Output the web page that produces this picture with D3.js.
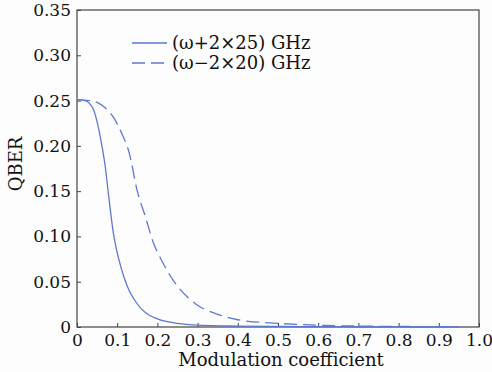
<!DOCTYPE html>
<html>
<head>
<meta charset="utf-8">
<script src="https://cdn.jsdelivr.net/npm/d3@7"></script>
<style>
  body { margin: 0; background: #fdfdfd; }
  svg { font-family: "DejaVu Serif", serif; }
</style>
</head>
<body>
<svg id="chart" width="492" height="372"></svg>
<script>
// data
const xPlus = [0, 0.02, 0.04, 0.06, 0.07, 0.08, 0.09, 0.1, 0.11, 0.12, 0.13, 0.14, 0.16, 0.18, 0.2, 0.25, 0.3, 0.4, 0.5, 0.6, 0.8, 0.95];
const yPlus = [0.251, 0.250, 0.241, 0.205, 0.178, 0.140, 0.105, 0.082, 0.065, 0.051, 0.040, 0.032, 0.020, 0.013, 0.009, 0.004, 0.002, 0.001, 0.0006, 0.0004, 0.0002, 0.0002];
const xMinus = [0, 0.03, 0.05, 0.07, 0.09, 0.11, 0.13, 0.15, 0.17, 0.19, 0.21, 0.23, 0.25, 0.28, 0.3, 0.35, 0.4, 0.5, 0.6, 0.7, 0.8, 0.95];
const yMinus = [0.251, 0.250, 0.248, 0.242, 0.232, 0.215, 0.192, 0.150, 0.122, 0.093, 0.074, 0.058, 0.045, 0.031, 0.024, 0.014, 0.008, 0.004, 0.002, 0.001, 0.0006, 0.0003];
const xTicks = [0, 0.1, 0.2, 0.3, 0.4, 0.5, 0.6, 0.7, 0.8, 0.9, 1.0];
const yTicks = [0, 0.05, 0.10, 0.15, 0.20, 0.25, 0.30, 0.35];
const seriesNames = ['(\u03c9+2\u00d725) GHz', '(\u03c9\u22122\u00d720) GHz'];

const svg = d3.select('#chart');
const padLeft = 77, padRight = 479, padTop = 10, padBottom = 327;
const lineColor = '#5b79d2';

const x = d3.scaleLinear().domain([0, 1]).range([padLeft, padRight]);
const y = d3.scaleLinear().domain([0, 0.35]).range([padBottom, padTop]);

// frame
svg.append('rect')
  .attr('x', padLeft).attr('y', padTop)
  .attr('width', padRight - padLeft).attr('height', padBottom - padTop)
  .attr('fill', '#fdfdfd')
  .attr('stroke', '#444').attr('stroke-width', 1.2);

// ticks, pointing inward
const xAxis = d3.axisBottom(x).tickValues(xTicks)
  .tickSize(-4).tickPadding(7)
  .tickFormat(d => d === 0 ? '0' : d3.format('.1f')(d));
const yAxis = d3.axisLeft(y).tickValues(yTicks)
  .tickSize(-4).tickPadding(6)
  .tickFormat(d => d === 0 ? '0' : d3.format('.2f')(d));

const gx = svg.append('g').attr('transform', `translate(0,${padBottom})`).call(xAxis);
const gy = svg.append('g').attr('transform', `translate(${padLeft},0)`).call(yAxis);
[gx, gy].forEach(g => {
  g.select('.domain').remove();
  g.selectAll('.tick line').attr('stroke', '#444');
  g.selectAll('.tick text').attr('fill', '#111')
    .style('font-size', '17px').style('font-family', '"DejaVu Serif", serif');
});

// axis titles
svg.append('text')
  .attr('x', 281).attr('y', 366)
  .attr('text-anchor', 'middle')
  .style('font-size', '18px').attr('fill', '#111')
  .text('Modulation coefficient');

svg.append('text')
  .attr('transform', `translate(22,164) rotate(-90)`)
  .attr('text-anchor', 'middle')
  .style('font-size', '18px').attr('fill', '#111')
  .text('QBER');

// lines
const line = d3.line()
  .x(d => x(d[0]))
  .y(d => y(d[1]))
  .curve(d3.curveMonotoneX);

const series = [
  { pts: d3.zip(xPlus, yPlus), dash: null },
  { pts: d3.zip(xMinus, yMinus), dash: '13,6' }
];

svg.selectAll('.series').data(series)
  .join('path')
  .attr('class', 'series')
  .attr('d', d => line(d.pts))
  .attr('fill', 'none')
  .attr('stroke', lineColor)
  .attr('stroke-width', 1.3)
  .attr('stroke-dasharray', d => d.dash);

// legend
const legend = svg.selectAll('.legend').data(series)
  .join('g')
  .attr('class', 'legend')
  .attr('transform', (d, i) => `translate(132,${43 + i * 20})`);

legend.append('line')
  .attr('x1', 0).attr('x2', 35)
  .attr('stroke', lineColor).attr('stroke-width', 1.3)
  .attr('stroke-dasharray', d => d.dash);

legend.append('text')
  .attr('x', 40).attr('y', 6)
  .style('font-size', '18px').attr('fill', '#111')
  .text((d, i) => seriesNames[i]);
</script>
</body>
</html>
